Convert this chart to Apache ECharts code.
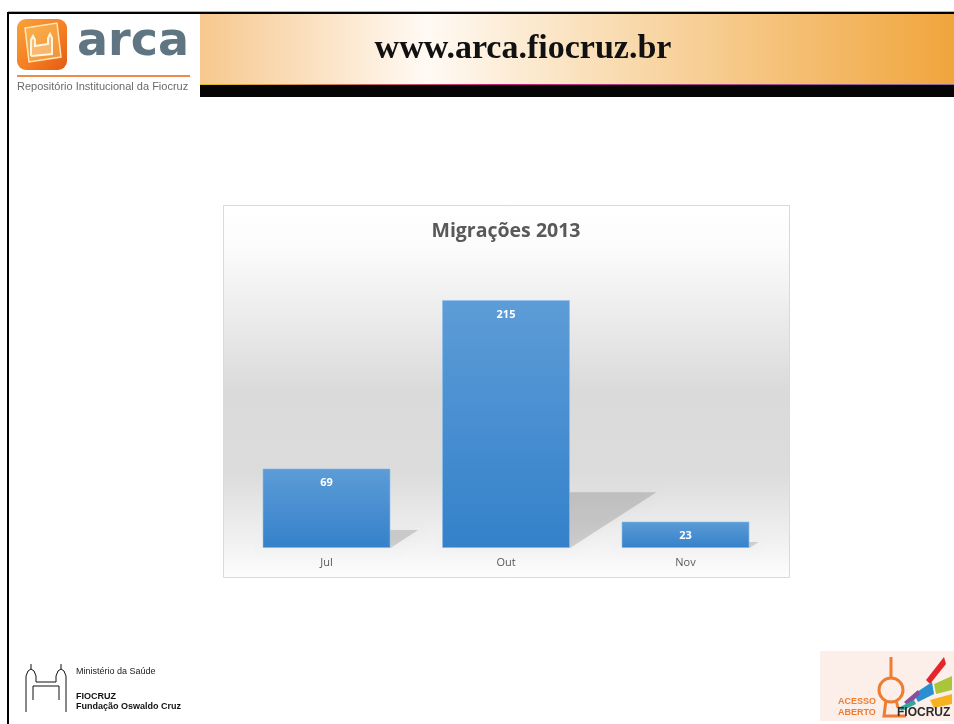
<!DOCTYPE html>
<html>
<head>
<meta charset="utf-8">
<script src="https://cdn.jsdelivr.net/npm/echarts@6/dist/echarts.min.js"></script>
<style>
  html, body { margin: 0; padding: 0; background: #ffffff; }
  #main { width: 954px; height: 724px; }
</style>
</head>
<body>
<div id="main"></div>
<script>
// Chart data
const categories = ['Jul', 'Out', 'Nov'];
const migrations = [69, 215, 23];
const chartTitle = 'Migrações 2013';

const BAR_WIDTH = 128;
const chart = echarts.init(document.getElementById('main'), null, { renderer: 'canvas' });

const barFill = new echarts.graphic.LinearGradient(0, 0, 0, 1, [
  { offset: 0, color: '#5d9cd7' },
  { offset: 1, color: '#3481ca' }
]);

// Perspective drop shadow cast to the right of each bar
function renderShadow(params, api) {
  const idx = api.value(0);
  const v = api.value(1);
  const base = api.coord([idx, 0]);
  const top = api.coord([idx, v]);
  const h = base[1] - top[1];
  const dy = h * 0.225;
  const dx = dy * 1.55;
  const x0 = base[0] - BAR_WIDTH / 2;
  const x1 = base[0] + BAR_WIDTH / 2;
  const yb = base[1];
  return {
    type: 'polygon',
    shape: { points: [[x0, yb], [x1, yb], [x1 + dx, yb - dy], [x0 + dx, yb - dy]] },
    style: { fill: 'rgba(0,0,0,0.14)', shadowBlur: 10, shadowColor: 'rgba(0,0,0,0.16)' }
  };
}

const sans = '"Liberation Sans", Arial, sans-serif';

// Page decorations: header banner, logos and frame
const decorations = [
  // frame
  { type: 'rect', shape: { x: 8, y: 11, width: 946, height: 1 }, style: { fill: '#f0a848' } },
  { type: 'rect', shape: { x: 8, y: 12, width: 946, height: 2 }, style: { fill: '#000000' } },
  { type: 'rect', shape: { x: 7, y: 12, width: 2, height: 712 }, style: { fill: '#000000' } },
  // header banner
  {
    type: 'rect', shape: { x: 200, y: 14, width: 754, height: 70 },
    style: {
      fill: new echarts.graphic.LinearGradient(0, 0, 1, 0, [
        { offset: 0, color: '#f6c88e' },
        { offset: 0.3, color: '#fffaf4' },
        { offset: 0.55, color: '#f9dcb2' },
        { offset: 1, color: '#f0a53c' }
      ])
    }
  },
  {
    type: 'rect', shape: { x: 200, y: 84, width: 754, height: 1 },
    style: {
      fill: new echarts.graphic.LinearGradient(0, 0, 1, 0, [
        { offset: 0, color: '#d8c030' },
        { offset: 0.4, color: '#c02080' },
        { offset: 1, color: '#8a70a0' }
      ])
    }
  },
  { type: 'rect', shape: { x: 200, y: 85, width: 754, height: 12 }, style: { fill: '#050505' } },
  {
    type: 'text', x: 523, y: 49,
    style: {
      text: 'www.arca.fiocruz.br', fill: '#111111', align: 'center', verticalAlign: 'middle',
      font: 'bold 34px "Liberation Serif", "DejaVu Serif", serif'
    }
  },
  // arca logo: cube icon
  {
    type: 'rect', shape: { x: 17, y: 19, width: 50, height: 51, r: 9 },
    style: {
      fill: new echarts.graphic.LinearGradient(0, 0, 1, 1, [
        { offset: 0, color: '#f9a23a' },
        { offset: 0.6, color: '#f47b20' },
        { offset: 1, color: '#e35a12' }
      ])
    }
  },
  {
    type: 'polygon', shape: { points: [[25, 28], [57, 23], [61, 57], [29, 62]] },
    style: { fill: 'rgba(255,220,120,0.35)', stroke: 'rgba(255,240,200,0.9)', lineWidth: 1.5 }
  },
  {
    type: 'polyline',
    shape: { points: [[31, 56], [31, 40], [33, 36], [35, 40], [35, 46], [48, 44], [48, 38], [50, 34], [52, 38], [52, 54], [31, 56]] },
    style: { stroke: '#fff6e0', lineWidth: 2, fill: 'rgba(255,255,255,0.25)' }
  },
  {
    type: 'text', x: 77, y: 43,
    style: {
      text: 'arca', fill: '#5f7682', verticalAlign: 'middle',
      font: 'bold 46px "DejaVu Sans", sans-serif'
    }
  },
  { type: 'rect', shape: { x: 17, y: 75, width: 173, height: 2 }, style: { fill: '#f08a48' } },
  {
    type: 'text', x: 17, y: 87,
    style: {
      text: 'Repositório Institucional da Fiocruz', fill: '#6a6a6a', verticalAlign: 'middle',
      font: '11px ' + sans
    }
  },
  // chart area box
  {
    type: 'rect', z: -1, shape: { x: 223.5, y: 205.5, width: 566, height: 372 },
    style: {
      stroke: '#d9d9d9', lineWidth: 1,
      fill: new echarts.graphic.LinearGradient(0, 0, 0, 1, [
        { offset: 0, color: '#ffffff' },
        { offset: 0.12, color: '#fbfbfb' },
        { offset: 0.5, color: '#dadada' },
        { offset: 0.72, color: '#dcdcdc' },
        { offset: 0.9, color: '#f1f1f1' },
        { offset: 1, color: '#fdfdfd' }
      ])
    }
  },
  // footer left: Fiocruz castle outline
  {
    type: 'polyline',
    shape: { points: [[26, 712], [26, 676], [28, 671], [31, 669], [34, 671], [36, 676], [36, 682], [56, 682], [56, 676], [58, 671], [61, 669], [64, 671], [66, 676], [66, 712]] },
    style: { stroke: '#111111', lineWidth: 1, fill: null }
  },
  {
    type: 'polyline', shape: { points: [[33, 700], [33, 686], [59, 686], [59, 700]] },
    style: { stroke: '#111111', lineWidth: 1, fill: null }
  },
  { type: 'line', shape: { x1: 31, y1: 664, x2: 31, y2: 669 }, style: { stroke: '#111', lineWidth: 1 } },
  { type: 'line', shape: { x1: 61, y1: 664, x2: 61, y2: 669 }, style: { stroke: '#111', lineWidth: 1 } },
  {
    type: 'text', x: 76, y: 672,
    style: { text: 'Ministério da Saúde', fill: '#222', verticalAlign: 'middle', font: '9px ' + sans }
  },
  {
    type: 'text', x: 76, y: 697,
    style: { text: 'FIOCRUZ', fill: '#111', verticalAlign: 'middle', font: 'bold 9px ' + sans }
  },
  {
    type: 'text', x: 76, y: 707,
    style: { text: 'Fundação Oswaldo Cruz', fill: '#111', verticalAlign: 'middle', font: 'bold 9px ' + sans }
  },
  // footer right: Acesso Aberto logo
  { type: 'rect', shape: { x: 820, y: 651, width: 134, height: 70 }, style: { fill: '#fcefe9' } },
  { type: 'line', shape: { x1: 891, y1: 657, x2: 891, y2: 678 }, style: { stroke: '#ee7d33', lineWidth: 3 } },
  { type: 'circle', shape: { cx: 891, cy: 690, r: 12 }, style: { stroke: '#ee7d33', lineWidth: 3, fill: null } },
  {
    type: 'polyline', shape: { points: [[886, 700], [884, 716], [906, 716]] },
    style: { stroke: '#ee7d33', lineWidth: 3, fill: null }
  },
  {
    type: 'polyline', shape: { points: [[896, 700], [898, 708]] },
    style: { stroke: '#ee7d33', lineWidth: 3, fill: null }
  },
  { type: 'polygon', shape: { points: [[926, 680], [944, 657], [946, 664], [930, 684]] }, style: { fill: '#e5262d' } },
  { type: 'polygon', shape: { points: [[934, 684], [952, 676], [952, 690], [936, 694]] }, style: { fill: '#a9c63a' } },
  { type: 'polygon', shape: { points: [[914, 694], [932, 682], [934, 694], [918, 702]] }, style: { fill: '#2a8fd0' } },
  { type: 'polygon', shape: { points: [[930, 700], [952, 694], [952, 704], [934, 708]] }, style: { fill: '#f5b21e' } },
  { type: 'polygon', shape: { points: [[904, 702], [918, 690], [920, 694], [908, 706]] }, style: { fill: '#8a4ea0' } },
  { type: 'polygon', shape: { points: [[898, 708], [914, 700], [916, 704], [902, 711]] }, style: { fill: '#2fa99a' } },
  {
    type: 'text', x: 838, y: 702,
    style: { text: 'ACESSO', fill: '#ee7d33', verticalAlign: 'middle', font: 'bold 9px ' + sans }
  },
  {
    type: 'text', x: 838, y: 713,
    style: { text: 'ABERTO', fill: '#ee7d33', verticalAlign: 'middle', font: 'bold 9px ' + sans }
  },
  {
    type: 'text', x: 897, y: 713,
    style: { text: 'FIOCRUZ', fill: '#2a2a2a', verticalAlign: 'middle', font: 'bold 12px ' + sans }
  }
];

chart.setOption({
  animation: false,
  backgroundColor: '#ffffff',
  title: {
    text: chartTitle,
    left: 506,
    top: 221,
    padding: 0,
    textAlign: 'center',
    textStyle: {
      color: '#595959', fontSize: 19.5, fontWeight: 'bold',
      fontFamily: '"Open Sans", "Noto Sans", sans-serif'
    }
  },
  graphic: { elements: decorations },
  grid: { left: 236.75, right: 178.75, top: 259.6, bottom: 176, containLabel: false },
  xAxis: {
    type: 'category',
    data: categories,
    axisLine: { show: false },
    axisTick: { show: false },
    axisLabel: {
      color: '#595959', fontSize: 11, margin: 9,
      fontFamily: '"Open Sans", "Noto Sans", sans-serif'
    }
  },
  yAxis: {
    type: 'value', min: 0, max: 250, show: false,
    splitLine: { show: false }
  },
  series: [
    {
      type: 'custom',
      z: 1,
      silent: true,
      renderItem: renderShadow,
      data: migrations.map((v, i) => [i, v])
    },
    {
      type: 'bar',
      z: 3,
      data: migrations,
      barWidth: BAR_WIDTH,
      itemStyle: { color: barFill, borderColor: 'rgba(140,190,235,0.6)', borderWidth: 1 },
      label: {
        show: true, position: 'insideTop', distance: 9,
        color: '#ffffff', fontSize: 11, fontWeight: 'bold',
        fontFamily: '"Open Sans", "Noto Sans", sans-serif'
      }
    }
  ]
});
</script>
</body>
</html>
